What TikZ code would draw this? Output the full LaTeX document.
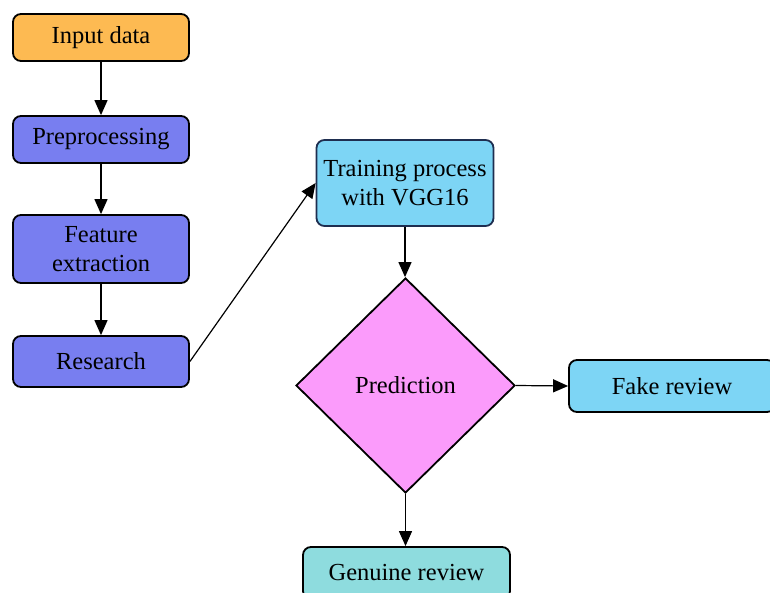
\documentclass[tikz,border=0pt]{standalone}
\usepackage{fontspec}
\setmainfont{Liberation Serif}
\usetikzlibrary{shapes.geometric,arrows.meta}
\definecolor{corange}{RGB}{253,186,82}
\definecolor{cblue}{RGB}{120,126,240}
\definecolor{csky}{RGB}{125,213,245}
\definecolor{cpink}{RGB}{251,155,251}
\definecolor{cteal}{RGB}{142,220,222}
\definecolor{cnavy}{RGB}{30,46,80}
\tikzset{
  txt/.style={font=\fontsize{24.5}{28.5}\selectfont},
  box/.style={draw=black, line width=1.8pt, rounded corners=8pt, minimum width=176pt, inner sep=0pt, align=center, txt},
  flow/.style={line width=1.2pt, -{Triangle[length=15pt,width=13pt]}},
}
\begin{document}
\begin{tikzpicture}[x=1pt,y=-1pt]
\useasboundingbox (0,0) rectangle (770,593);
\clip (0,0) rectangle (770,593);
\node[box, fill=corange, minimum height=47pt] (input) at (101,37.5) {Input data};
\node[box, fill=cblue, minimum height=47pt] (pre) at (101,139.5) {Preprocessing};
\node[box, fill=cblue, minimum height=68pt] (feat) at (101,249) {Feature\\extraction};
\node[box, fill=cblue, minimum height=51pt] (res) at (101,361.5) {Research};
\node[box, fill=csky, draw=cnavy, minimum width=177pt, minimum height=86pt] (train) at (405,183) {Training process\\with VGG16};
\node[draw=black, line width=1.8pt, fill=cpink, shape=diamond, minimum width=219pt, minimum height=215pt, inner sep=0pt, txt] (pred) at (405.5,385.5) {Prediction};
\node[box, fill=csky, minimum width=206pt, minimum height=52pt] (fake) at (672,386) {Fake review};
\node[box, fill=cteal, minimum width=207pt, minimum height=52pt] (gen) at (406.5,573) {Genuine review};
\draw[flow] (input) -- (pre);
\draw[flow] (pre) -- (feat);
\draw[flow] (feat) -- (res);
\draw[flow] (res.east) -- (train.west);
\draw[flow] (train.south) -- (train.south |- pred.north);
\draw[flow] (pred.east) -- (fake.west);
\draw[flow] (pred.south) -- (pred.south |- gen.north);
\end{tikzpicture}
\end{document}
